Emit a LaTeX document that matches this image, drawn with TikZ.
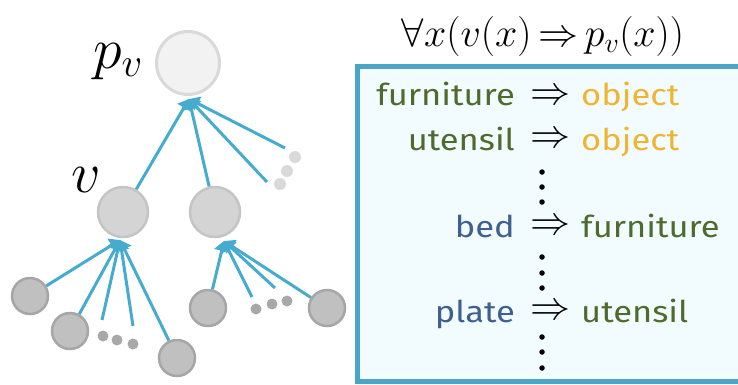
\RequirePackage{fix-cm}
\documentclass[tikz,border=0pt]{standalone}
\usepackage{fontspec}
\usetikzlibrary{arrows.meta}
\newfontfamily\handfont{Fira Sans}[FakeStretch=1.15]
\definecolor{arrowblue}{HTML}{45ACD0}
\definecolor{boxblue}{HTML}{4AA6C8}
\definecolor{boxfill}{HTML}{F2FBFE}
\definecolor{topfill}{HTML}{F2F2F2}
\definecolor{topdraw}{HTML}{D9D9D9}
\definecolor{midfill}{HTML}{D4D4D4}
\definecolor{middraw}{HTML}{C4C4C4}
\definecolor{leaffill}{HTML}{C0C0C0}
\definecolor{leafdraw}{HTML}{A6A6A6}
\definecolor{dotgray}{HTML}{A8A8A8}
\definecolor{dotlight}{HTML}{D9D9D9}
\definecolor{txtgreen}{HTML}{4E6B2E}
\definecolor{txtyellow}{HTML}{F0B433}
\definecolor{txtblue}{HTML}{3F5F8F}
\tikzset{
  topnode/.style={circle,draw=topdraw,fill=topfill,line width=3pt,minimum size=63pt,inner sep=0pt},
  midnode/.style={circle,draw=middraw,fill=midfill,line width=2.5pt,minimum size=50pt,inner sep=0pt},
  leafnode/.style={circle,draw=leafdraw,fill=leaffill,line width=2.5pt,minimum size=36pt,inner sep=0pt},
  smalldot/.style={circle,fill=dotgray,minimum size=11pt,inner sep=0pt},
  lightdot/.style={circle,fill=dotlight,minimum size=12pt,inner sep=0pt},
  edge/.style={draw=arrowblue,line width=3pt,-{Triangle[width=15pt,length=10pt]}},
  lefttxt/.style={anchor=base east,inner sep=0pt,font=\handfont\fontsize{30}{34}\selectfont},
  righttxt/.style={anchor=base west,inner sep=0pt,font=\handfont\fontsize{30}{34}\selectfont},
  impl/.style={inner sep=0pt,font=\fontsize{40}{42}\selectfont},
  vdot/.style={circle,fill=black,minimum size=5.5pt,inner sep=0pt},
}
\begin{document}
\begin{tikzpicture}[x=1pt,y=-1pt]
\useasboundingbox (0,0) rectangle (738,384);
% right box
\begin{scope}
\clip (0,0) rectangle (738,384);
\draw[draw=boxblue,fill=boxfill,line width=4.5pt] (357.5,66.5) rectangle (760,381.5);
\end{scope}
% formula
\node[anchor=base,inner sep=0pt,font=\fontsize{40}{44}\selectfont] (formula) at (543,46) {$\forall x(v(x)\,{\Rightarrow}\,p_v(x))$};
% tree nodes
\node[topnode] (pv) at (188,63) {};
\node[midnode] (v) at (123,212) {};
\node[midnode] (w) at (215,212) {};
\node[leafnode] (c1) at (30,296) {};
\node[leafnode] (c2) at (70,331) {};
\node[leafnode] (c3) at (177,358) {};
\node[leafnode] (c4) at (208,308) {};
\node[leafnode] (c5) at (327,308) {};
% dot groups
\node[smalldot] (d1) at (103,336) {};
\node[smalldot] (d2) at (117,340) {};
\node[smalldot] (d3) at (133,344) {};
\node[smalldot] (e1) at (256,309) {};
\node[smalldot] (e2) at (272,304) {};
\node[smalldot] (e3) at (287,301) {};
\node[lightdot] (f1) at (295,157) {};
\node[lightdot] (f2) at (287,171) {};
\node[lightdot] (f3) at (280,184) {};
% labels
\node[anchor=base,inner sep=0pt,font=\fontsize{58}{60}\selectfont] (pvlab) at (118,68) {$p_v$};
\node[anchor=base,inner sep=0pt,font=\fontsize{58}{60}\selectfont] (vlab) at (86,192) {$v$};
% arrow targets and free starts
\coordinate (pvin) at (189,99);
\coordinate (vin) at (120,240);
\coordinate (win) at (224,241);
\coordinate (s1) at (267,182);
\coordinate (s2) at (285,148);
\coordinate (s3) at (102,320);
\coordinate (s4) at (133,326);
\coordinate (s5) at (252,297);
\coordinate (s6) at (275,288);
% edges
\draw[edge] (v) -- (pvin);
\draw[edge] (w) -- (pvin);
\draw[edge] (s1) -- (pvin);
\draw[edge] (s2) -- (pvin);
\draw[edge] (c1) -- (vin);
\draw[edge] (c2) -- (vin);
\draw[edge] (s3) -- (vin);
\draw[edge] (s4) -- (vin);
\draw[edge] (c3.115) -- (vin);
\draw[edge] (c4) -- (win);
\draw[edge] (s5) -- (win);
\draw[edge] (s6) -- (win);
\draw[edge] (c5) -- (win);
% rules
\node[lefttxt,text=txtgreen] (l1) at (515,105) {furniture};
\node[impl] (a1) at (550,97) {$\Rightarrow$};
\node[righttxt,text=txtyellow] (r1) at (581,105) {object};
\node[lefttxt,text=txtgreen] (l2) at (515,150) {utensil};
\node[impl] (a2) at (550,140) {$\Rightarrow$};
\node[righttxt,text=txtyellow] (r2) at (581,150) {object};
\node[lefttxt,text=txtblue] (l3) at (515,237) {bed};
\node[impl] (a3) at (550,227) {$\Rightarrow$};
\node[righttxt,text=txtgreen] (r3) at (581,237) {furniture};
\node[lefttxt,text=txtblue] (l4) at (515,322) {plate};
\node[impl] (a4) at (550,312) {$\Rightarrow$};
\node[righttxt,text=txtgreen] (r4) at (581,322) {utensil};
% vertical dots
\foreach \yy [count=\i] in {172,187,202,257,273,288,337,352,368}
  \node[vdot] (vd\i) at (542,\yy) {};
\end{tikzpicture}
\end{document}
